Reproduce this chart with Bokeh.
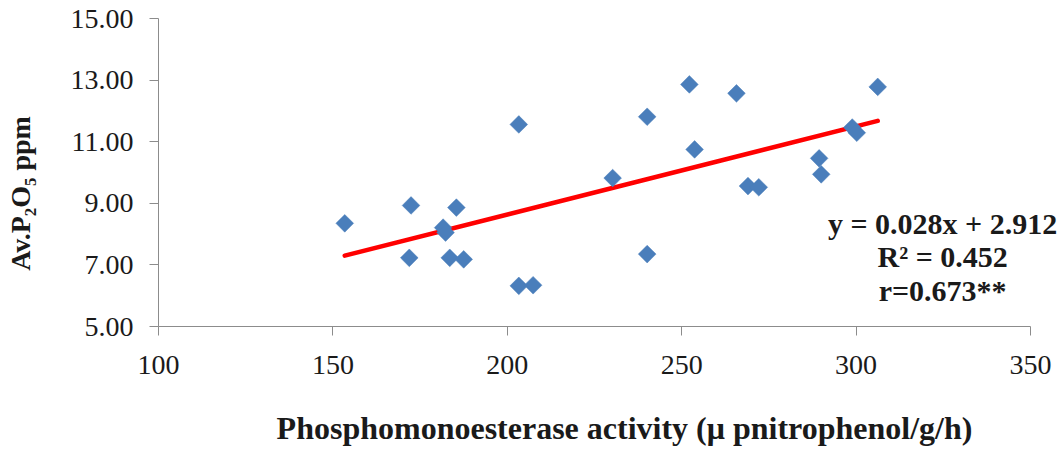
import numpy as np
from bokeh.plotting import figure
from bokeh.models import Range1d, FixedTicker, NumeralTickFormatter, Label
from bokeh.embed import file_html
from bokeh.resources import INLINE

# Data
activity = [153.4, 172.4, 171.9, 181.6, 182.3, 185.4, 183.5, 187.5, 203.3, 203.3, 207.4,
            230.2, 240.1, 253.7, 252.2, 265.7, 240.1, 269.0, 272.1, 289.4, 290.0, 298.9,
            300.2, 306.2]
av_p2o5 = [8.35, 8.93, 7.23, 8.21, 8.05, 8.86, 7.23, 7.18, 11.56, 6.32, 6.34,
           9.82, 11.81, 10.75, 12.86, 12.57, 7.35, 9.56, 9.52, 10.46, 9.94, 11.46,
           11.29, 12.78]
x_ticks = [100, 150, 200, 250, 300, 350]
y_ticks = [5, 7, 9, 11, 13, 15]
eq_lines = ["y = 0.028x + 2.912", "R\u00b2 = 0.452", "r=0.673**"]
x_title = "Phosphomonoesterase activity (\u03bc pnitrophenol/g/h)"
y_title = "Av.P\u2082O\u2085 ppm"

SERIF = "Liberation Serif"
AXIS_GRAY = "#8c8c8c"
NBSP = "\u00a0"
W, H = 1058, 452
LEFT, TOP, AXIS_Y = 158, 18, 326
PX_PER_UNIT = 3.488  # horizontal scale of the reference

frame_w = W - LEFT
x_end = 100 + frame_w / PX_PER_UNIT

p = figure(width=W, height=H, output_backend="svg", toolbar_location=None,
           x_range=Range1d(100, x_end), y_range=Range1d(5, 15),
           min_border_left=LEFT, min_border_right=0, min_border_top=TOP,
           min_border_bottom=H - AXIS_Y)
p.outline_line_color = None
p.grid.grid_line_color = None
p.background_fill_color = "white"
p.border_fill_color = "white"

for ax in (p.xaxis[0], p.yaxis[0]):
    ax.axis_line_color = AXIS_GRAY
    ax.major_tick_line_color = AXIS_GRAY
    ax.minor_tick_line_color = None
    ax.major_tick_in = 0
    ax.major_tick_out = 9
    ax.major_label_text_font = SERIF
    ax.major_label_text_font_size = "28px"
    ax.major_label_text_color = "#1a1a1a"
    ax.axis_label_text_font = SERIF
    ax.axis_label_text_font_style = "bold"
    ax.axis_label_text_color = "#1a1a1a"

p.xaxis.bounds = (100, 350)
p.xaxis.ticker = FixedTicker(ticks=x_ticks)
p.yaxis.ticker = FixedTicker(ticks=y_ticks)
p.yaxis.formatter = NumeralTickFormatter(format="0.00")
p.xaxis.major_label_standoff = 20
p.yaxis.major_label_standoff = 16

# Axis titles (non-breaking spaces nudge the centred titles like the reference)
p.xaxis.axis_label = NBSP * 4 + x_title
p.xaxis.axis_label_text_font_size = "32px"
p.xaxis.axis_label_standoff = 33
p.yaxis.axis_label = y_title + NBSP * 6
p.yaxis.axis_label_text_font_size = "28px"
p.yaxis.axis_label_standoff = 32

# Trend line (least squares fit of the points)
slope, intercept = np.polyfit(activity, av_p2o5, 1)
xs = np.array([min(activity), max(activity)])
p.line(xs, slope * xs + intercept, line_color="#ff0000", line_width=4.5, line_cap="round")

# Diamond markers
p.scatter(activity, av_p2o5, marker="square", angle=np.pi / 4, size=12.5,
          fill_color="#4a7ebb", line_color="#4a7ebb", line_width=0.5)

# Equation text
eq_y = [8.33, 7.26, 6.16]
for txt, yy in zip(eq_lines, eq_y):
    p.add_layout(Label(x=324.8, y=yy, text=txt, text_align="center", text_baseline="middle",
                       text_font=SERIF, text_font_style="bold", text_font_size="30px",
                       text_color="#1a1a1a"))

open("out.html", "w").write(file_html(p, INLINE))
